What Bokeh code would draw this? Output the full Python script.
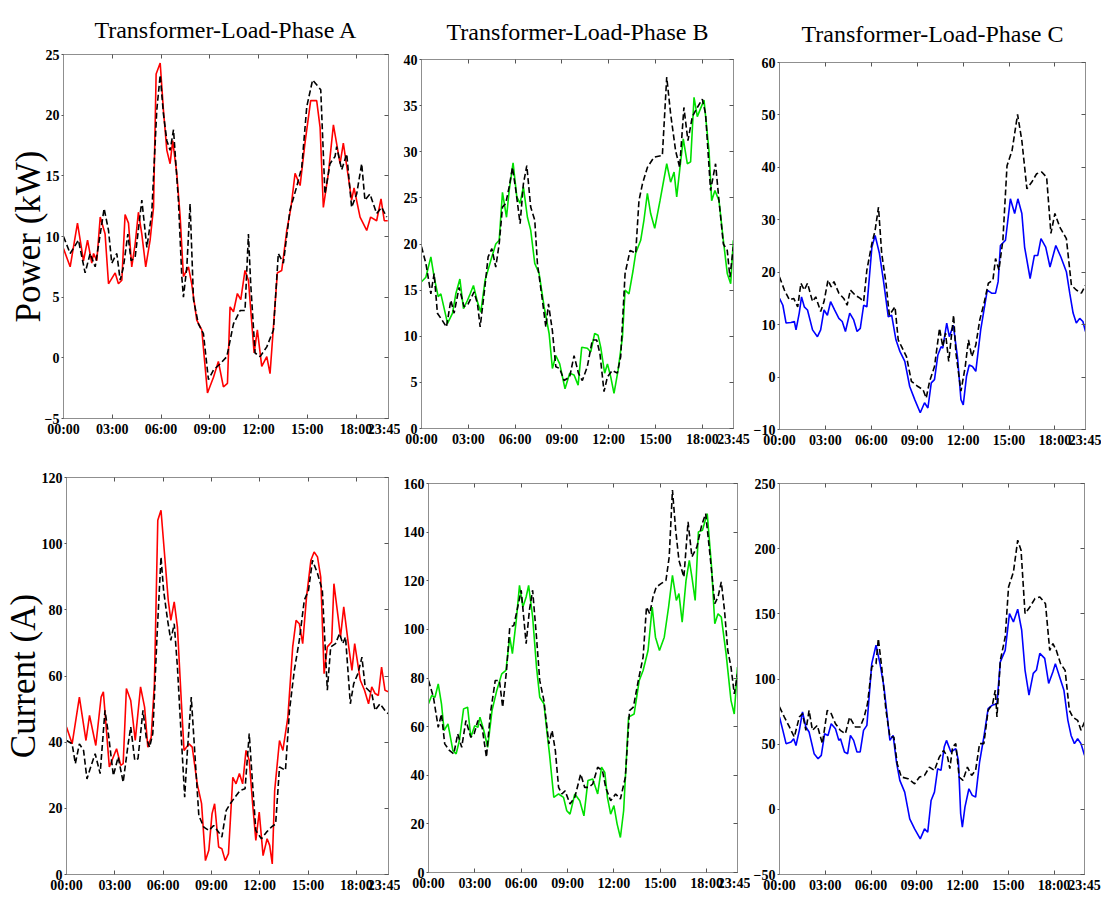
from bokeh.plotting import figure
from bokeh.models import Range1d, FixedTicker, LinearAxis
from bokeh.layouts import row, column
from bokeh.embed import file_html
from bokeh.resources import INLINE

# ---------------- axis tick data ----------------
time_ticks = [0, 3, 6, 9, 12, 15, 18, 20]
time_labels = ["00:00", "03:00", "06:00", "09:00", "12:00", "15:00", "18:00", "23:45"]

titles = ["Transformer-Load-Phase A", "Transformer-Load-Phase B", "Transformer-Load-Phase C"]
row_labels = ["Power (kW)", "Current (A)"]

power_ticks_A = [-5, 0, 5, 10, 15, 20, 25]
power_ticks_B = [0, 5, 10, 15, 20, 25, 30, 35, 40]
power_ticks_C = [-10, 0, 10, 20, 30, 40, 50, 60]
current_ticks_A = [0, 20, 40, 60, 80, 100, 120]
current_ticks_B = [0, 20, 40, 60, 80, 100, 120, 140, 160]
current_ticks_C = [-50, 0, 50, 100, 150, 200, 250]

# ---------------- Phase A power (kW) ----------------
powA_t = [0, 0.41, 0.86, 1.23, 1.48, 1.74, 1.85, 2.05, 2.26, 2.56, 2.77, 3.18, 3.38, 3.59, 3.79, 4.0, 4.2, 4.41, 4.61, 4.82,
          5.06, 5.33, 5.54, 5.7, 5.95, 6.15, 6.36, 6.56, 6.72, 6.97, 7.18, 7.38, 7.69, 7.89, 8.2, 8.51, 8.86, 9.23, 9.53, 9.84,
          10.09, 10.25, 10.46, 10.7, 10.91, 11.17, 11.38, 11.73, 11.93, 12.2, 12.51, 12.71, 13.16, 13.43, 13.74, 14.0, 14.25, 14.56, 14.86, 15.21,
          15.58, 15.79, 15.99, 16.3, 16.61, 17.02, 17.22, 17.53, 17.73, 17.88, 18.25, 18.66, 18.9, 19.27, 19.54, 19.74, 19.95]
powA = [9.0, 7.5, 11.1, 8.0, 9.7, 7.8, 8.6, 8.0, 11.6, 10.2, 6.1, 7.0, 6.1, 6.4, 11.8, 11.1, 7.5, 9.4, 12.0, 10.2,
        7.5, 9.7, 12.4, 23.4, 24.3, 20.4, 17.1, 16.0, 17.9, 15.2, 11.6, 6.7, 7.5, 6.1, 3.1, 2.3, -2.9, -1.6, -0.3, -2.4,
        -2.1, 4.2, 3.8, 5.3, 4.8, 7.2, 6.4, 0.4, 2.3, -0.7, 0.1, -1.3, 7.0, 7.2, 10.5, 12.4, 15.2, 14.2, 17.7, 21.2,
        21.2, 19.0, 12.4, 15.2, 19.2, 16.0, 17.7, 14.9, 13.0, 14.0, 11.6, 10.5, 11.6, 11.3, 13.1, 11.3, 11.3]
powA_ref_t = [0, 0.41, 0.92, 1.33, 1.64, 1.95, 2.26, 2.5, 2.77, 2.97, 3.28, 3.49, 3.69, 3.96, 4.16, 4.41, 4.82, 5.13, 5.43, 5.74,
              5.95, 6.15, 6.36, 6.56, 6.77, 7.07, 7.28, 7.38, 7.59, 7.79, 8.0, 8.3, 8.61, 8.92, 9.23, 9.64, 10.05, 10.46, 10.87, 11.17,
              11.38, 11.52, 11.79, 12.1, 12.51, 12.92, 13.22, 13.53, 13.94, 14.35, 14.66, 14.97, 15.33, 15.58, 15.83, 16.09, 16.4, 16.71, 16.81, 17.12,
              17.43, 17.73, 18.04, 18.35, 18.55, 18.86, 19.27, 19.58, 19.89]
powA_ref = [10.0, 8.6, 9.7, 7.0, 8.6, 7.5, 10.2, 12.3, 10.5, 7.8, 8.6, 6.4, 7.5, 10.2, 8.0, 8.3, 13.0, 9.1, 11.9, 20.4,
            23.3, 20.1, 17.9, 17.1, 18.8, 13.0, 6.7, 5.0, 7.5, 12.7, 4.8, 2.8, 2.0, -1.8, -1.0, -0.5, 0.1, 2.8, 3.9, 3.9,
            10.2, 6.1, 0.4, 0.1, 0.9, 2.3, 8.6, 7.8, 12.2, 14.1, 15.7, 20.7, 22.9, 22.5, 22.1, 13.5, 16.0, 16.6, 17.4, 15.5,
            16.8, 12.4, 13.5, 16.0, 13.0, 13.5, 11.9, 12.4, 11.6]

# ---------------- Phase B power (kW) ----------------
powB_t = [0, 0.28, 0.6, 0.81, 1.07, 1.24, 1.67, 1.99, 2.2, 2.46, 2.69, 2.95, 3.12, 3.33, 3.59, 3.8, 4.08, 4.44, 4.76, 4.98,
          5.19, 5.45, 5.62, 5.87, 6.11, 6.32, 6.53, 6.79, 7.0, 7.26, 7.54, 7.86, 8.18, 8.39, 8.61, 8.86, 9.2, 9.5, 9.78, 10.04,
          10.27, 10.63, 10.85, 11.1, 11.32, 11.49, 11.74, 11.92, 12.13, 12.34, 12.6, 12.88, 13.05, 13.3, 13.56, 13.73, 14.05, 14.26, 14.48, 14.69,
          14.95, 15.29, 15.72, 15.97, 16.19, 16.36, 16.57, 16.78, 17.04, 17.25, 17.47, 17.68, 17.89, 18.11, 18.43, 18.6, 18.81, 19.07, 19.35, 19.6,
          19.82, 19.99]
powB = [15.9, 16.4, 18.6, 16.4, 14.3, 14.6, 11.4, 12.5, 14.6, 16.2, 13.0, 13.9, 14.6, 15.5, 13.7, 12.6, 16.1, 18.2, 20.0, 20.4,
        25.6, 22.9, 25.8, 28.8, 25.1, 24.4, 26.2, 22.9, 21.5, 17.9, 16.8, 13.2, 10.3, 6.5, 7.9, 7.0, 4.3, 6.0, 5.8, 4.7,
        8.8, 8.7, 8.3, 10.3, 10.1, 8.8, 6.0, 7.0, 5.6, 3.8, 6.3, 9.9, 15.0, 14.6, 17.1, 19.0, 20.4, 22.6, 25.5, 23.3,
        21.7, 24.7, 28.7, 26.7, 27.8, 25.1, 28.3, 31.4, 28.7, 28.9, 35.9, 33.8, 34.7, 35.6, 30.1, 24.7, 25.8, 24.7, 20.4, 16.8,
        15.7, 20.4]
powB_ref_t = [0, 0.28, 0.6, 0.81, 1.02, 1.34, 1.6, 1.88, 2.09, 2.41, 2.73, 2.99, 3.37, 3.59, 3.76, 4.06, 4.27, 4.51, 4.76, 4.98,
              5.19, 5.4, 5.62, 5.83, 6.05, 6.32, 6.53, 6.75, 7.0, 7.26, 7.43, 7.75, 7.97, 8.14, 8.39, 8.61, 8.86, 9.14, 9.5, 9.78,
              10.06, 10.31, 10.63, 10.95, 11.23, 11.44, 11.7, 11.92, 12.23, 12.55, 12.77, 13.05, 13.37, 13.73, 13.94, 14.16, 14.48, 14.9, 15.44, 15.72,
              15.97, 16.29, 16.55, 16.82, 17.08, 17.36, 17.68, 18.0, 18.21, 18.53, 18.85, 19.07, 19.35, 19.6, 19.77, 19.99]
powB_ref = [19.7, 17.9, 14.6, 16.8, 12.5, 11.7, 11.0, 13.9, 12.5, 15.3, 13.2, 13.5, 14.8, 13.5, 11.0, 15.3, 18.6, 19.5, 17.5, 20.0,
            24.0, 24.4, 26.2, 28.3, 25.8, 22.2, 26.5, 28.5, 24.0, 22.6, 17.9, 13.9, 11.0, 13.5, 10.6, 6.7, 6.5, 5.2, 5.6, 7.9,
            6.0, 5.2, 6.7, 9.6, 9.6, 8.1, 4.0, 5.6, 6.3, 6.0, 7.8, 16.8, 19.3, 19.0, 24.7, 26.5, 28.3, 29.4, 29.6, 38.1,
            34.1, 30.1, 28.3, 34.8, 31.2, 33.8, 34.8, 35.7, 34.1, 25.8, 28.7, 24.7, 20.0, 19.3, 16.4, 19.7]

# ---------------- Phase C power (kW) ----------------
powC_t = [0, 0.22, 0.43, 0.75, 0.97, 1.08, 1.29, 1.44, 1.62, 1.83, 2.16, 2.48, 2.69, 2.91, 3.13, 3.34, 3.6, 3.88, 4.1, 4.31,
          4.59, 4.85, 5.07, 5.28, 5.5, 5.71, 6.04, 6.25, 6.53, 6.79, 7.11, 7.33, 7.61, 7.87, 8.19, 8.51, 8.84, 9.2, 9.48, 9.7,
          9.92, 10.13, 10.35, 10.56, 10.67, 10.93, 11.1, 11.36, 11.64, 11.86, 12.01, 12.22, 12.4, 12.61, 12.83, 13.15, 13.58, 13.86, 14.12, 14.29,
          14.44, 14.77, 15.09, 15.37, 15.58, 15.84, 16.02, 16.38, 16.66, 16.88, 17.09, 17.4, 17.68, 18.06, 18.39, 18.75, 18.97, 19.19, 19.4, 19.62,
          19.83, 20.0]
powC = [15.0, 13.7, 10.3, 10.4, 10.6, 9.0, 12.2, 15.3, 13.4, 12.8, 9.0, 7.7, 9.0, 12.8, 11.8, 14.4, 12.8, 11.2, 10.6, 8.7,
        12.2, 10.9, 8.7, 9.3, 13.7, 13.4, 24.8, 27.0, 23.6, 18.5, 11.5, 11.8, 7.1, 4.9, 3.0, -1.8, -4.3, -6.8, -4.9, -5.9,
        -1.1, -0.5, 4.2, 5.8, 5.5, 10.3, 7.7, 9.9, 3.6, -4.3, -5.3, 0.1, 2.3, 2.0, 1.1, 9.0, 16.6, 16.0, 16.0, 18.2,
        25.1, 26.1, 34.0, 31.2, 34.0, 31.2, 24.8, 18.8, 23.2, 23.2, 26.4, 24.8, 21.0, 25.1, 22.9, 20.1, 16.0, 12.2, 10.3, 11.2,
        10.6, 8.7]
powC_ref_t = [0, 0.32, 0.65, 0.93, 1.19, 1.4, 1.62, 1.83, 2.16, 2.37, 2.69, 2.91, 3.17, 3.38, 3.56, 3.88, 4.2, 4.42, 4.63, 4.96,
              5.28, 5.5, 5.71, 6.04, 6.25, 6.47, 6.68, 6.96, 7.18, 7.55, 7.76, 7.98, 8.3, 8.62, 9.05, 9.38, 9.59, 9.81, 10.13, 10.46,
              10.67, 10.85, 11.06, 11.28, 11.38, 11.53, 11.86, 12.14, 12.35, 12.57, 12.83, 13.09, 13.37, 13.65, 13.95, 14.12, 14.34, 14.6, 14.87, 15.2,
              15.56, 15.84, 16.17, 16.49, 16.81, 17.14, 17.46, 17.74, 18.0, 18.32, 18.75, 19.08, 19.4, 19.73, 20.0]
powC_ref = [19.1, 16.6, 14.7, 15.0, 13.4, 17.9, 16.6, 17.9, 14.4, 15.3, 12.5, 14.4, 18.5, 17.2, 18.2, 16.0, 15.0, 13.7, 16.6, 15.6,
            15.0, 14.4, 20.4, 25.5, 28.0, 32.4, 23.6, 17.9, 11.8, 13.4, 7.1, 5.8, 3.9, -0.8, -1.8, -2.4, -4.0, -0.8, 2.0, 9.3,
            5.8, 8.4, 3.0, 9.0, 11.8, 4.6, -2.7, 2.0, 7.1, 3.9, 6.1, 10.9, 14.1, 17.9, 18.5, 22.6, 20.4, 26.1, 40.3, 43.2,
            50.1, 45.1, 35.9, 37.2, 38.8, 39.1, 38.1, 27.4, 31.2, 28.6, 26.4, 17.5, 16.6, 16.0, 17.5]

# ---------------- Phase A current (A) ----------------
curA_t = [0, 0.35, 0.8, 1.21, 1.43, 1.82, 2.15, 2.29, 2.66, 3.11, 3.37, 3.52, 3.72, 3.99, 4.27, 4.6, 4.85, 5.05, 5.26, 5.46,
          5.67, 5.87, 6.07, 6.32, 6.48, 6.69, 6.89, 7.14, 7.3, 7.61, 7.81, 8.12, 8.39, 8.63, 8.84, 9.04, 9.2, 9.45, 9.65, 9.86,
          10.06, 10.33, 10.53, 10.74, 10.94, 11.15, 11.35, 11.56, 11.76, 11.97, 12.21, 12.46, 12.62, 12.78, 12.93, 13.23, 13.44, 13.75, 14.05, 14.26,
          14.46, 14.67, 14.91, 15.18, 15.38, 15.59, 15.79, 16.0, 16.2, 16.47, 16.61, 16.87, 17.02, 17.22, 17.53, 17.73, 17.9, 18.25, 18.51, 18.76,
          18.96, 19.17, 19.37, 19.57, 19.78, 20.0]
curA = [44.6, 39.5, 53.6, 40.5, 48.1, 39.0, 53.6, 55.2, 32.5, 38.0, 33.0, 33.5, 56.2, 52.6, 40.5, 56.7, 50.6, 38.5, 41.5, 57.7,
        107.1, 110.1, 98.0, 82.9, 76.8, 82.4, 74.8, 51.6, 37.5, 39.5, 38.5, 27.4, 21.4, 4.2, 7.3, 18.4, 21.4, 8.3, 7.8, 4.2,
        6.3, 29.4, 27.4, 30.5, 27.4, 37.5, 34.5, 21.4, 10.3, 18.9, 5.7, 10.8, 8.8, 3.2, 25.4, 40.5, 37.5, 47.6, 68.8, 76.8,
        75.8, 69.8, 83.9, 95.0, 97.5, 96.0, 89.9, 60.7, 68.8, 70.3, 87.9, 77.8, 71.8, 80.9, 68.8, 61.7, 69.8, 58.7, 55.7, 51.6,
        56.7, 54.7, 54.1, 62.7, 55.7, 55.2]
curA_ref_t = [0, 0.35, 0.55, 0.8, 1.06, 1.27, 1.57, 1.78, 2.09, 2.39, 2.6, 2.91, 3.21, 3.52, 3.83, 3.99, 4.24, 4.44, 4.75, 4.95,
              5.16, 5.36, 5.62, 5.87, 6.03, 6.28, 6.48, 6.69, 6.89, 7.06, 7.34, 7.51, 7.75, 7.96, 8.22, 8.53, 8.84, 9.14, 9.45, 9.65,
              9.92, 10.17, 10.47, 10.78, 11.09, 11.35, 11.5, 11.76, 12.11, 12.42, 12.72, 12.99, 13.23, 13.6, 13.85, 14.15, 14.46, 14.77, 15.03, 15.28,
              15.59, 15.89, 16.2, 16.41, 16.71, 16.96, 17.16, 17.33, 17.63, 17.84, 18.1, 18.35, 18.55, 18.76, 18.96, 19.17, 19.47, 19.78, 19.98]
curA_ref = [40.5, 39.5, 33.5, 39.5, 37.5, 28.9, 33.5, 36.5, 30.5, 49.6, 42.6, 29.9, 35.5, 27.9, 39.5, 44.6, 34.5, 35.0, 49.6, 41.5,
            38.5, 42.6, 71.8, 96.0, 85.9, 76.8, 70.8, 75.8, 62.7, 47.6, 23.4, 37.5, 53.6, 37.5, 17.8, 14.3, 13.3, 14.8, 12.8, 11.3,
            19.4, 21.4, 23.4, 25.4, 25.9, 42.6, 31.5, 13.3, 10.8, 12.8, 14.3, 15.3, 32.5, 31.5, 49.6, 61.7, 70.8, 82.9, 85.9, 95.0,
            91.0, 85.9, 55.7, 68.8, 69.8, 72.8, 69.8, 71.8, 51.6, 57.7, 60.7, 65.7, 56.7, 55.7, 54.7, 49.6, 51.6, 49.6, 48.6]

# ---------------- Phase B current (A) ----------------
curB_t = [0, 0.21, 0.42, 0.63, 0.84, 1.01, 1.26, 1.58, 1.79, 2.0, 2.27, 2.53, 2.74, 2.99, 3.2, 3.33, 3.58, 3.83, 4.11, 4.42,
          4.74, 5.01, 5.26, 5.43, 5.68, 5.89, 6.11, 6.32, 6.48, 6.74, 6.99, 7.2, 7.47, 7.68, 7.83, 8.11, 8.42, 8.74, 8.95, 9.16,
          9.47, 9.79, 10.06, 10.32, 10.63, 10.95, 11.2, 11.41, 11.58, 11.79, 12.0, 12.21, 12.42, 12.63, 12.95, 13.31, 13.64, 13.89, 14.21, 14.48,
          14.69, 14.95, 15.26, 15.54, 15.79, 16.04, 16.21, 16.42, 16.67, 16.88, 17.05, 17.26, 17.47, 17.73, 18.04, 18.32, 18.53, 18.74, 18.95, 19.26,
          19.58, 19.79, 20.0]
curB = [69.4, 72.8, 72.1, 77.6, 69.4, 58.4, 61.1, 50.1, 48.8, 54.3, 67.3, 68.0, 55.6, 60.4, 59.7, 63.9, 58.4, 51.5, 66.6, 74.9,
        81.7, 83.1, 96.8, 90.0, 103.7, 118.1, 109.2, 113.3, 118.1, 105.1, 84.5, 72.1, 69.4, 57.0, 48.8, 30.9, 32.3, 30.9, 25.4, 24.0,
        32.3, 29.5, 23.3, 37.8, 38.5, 32.3, 43.3, 41.2, 30.9, 24.0, 27.5, 19.9, 14.4, 25.4, 63.9, 65.2, 79.0, 83.1, 91.3, 109.2,
        96.8, 91.3, 96.8, 109.2, 122.2, 111.9, 114.7, 103.0, 120.2, 128.4, 121.5, 111.9, 140.1, 140.8, 147.6, 125.7, 102.3, 106.4, 105.1, 90.0,
        70.7, 65.2, 84.5]
curB_ref_t = [0, 0.32, 0.63, 0.84, 1.05, 1.37, 1.64, 1.89, 2.15, 2.42, 2.74, 2.95, 3.2, 3.47, 3.75, 4.0, 4.32, 4.59, 4.8, 5.05,
              5.26, 5.52, 5.73, 6.0, 6.32, 6.53, 6.74, 6.99, 7.2, 7.47, 7.79, 8.0, 8.21, 8.42, 8.63, 8.84, 9.16, 9.47, 9.85, 10.11,
              10.36, 10.63, 10.95, 11.26, 11.47, 11.79, 12.11, 12.42, 12.74, 13.01, 13.26, 13.58, 13.89, 14.11, 14.32, 14.53, 14.74, 15.05, 15.37, 15.58,
              15.79, 16.0, 16.21, 16.53, 16.8, 17.05, 17.37, 17.68, 17.94, 18.21, 18.53, 18.74, 18.95, 19.16, 19.37, 19.58, 19.79, 20.0]
curB_ref = [79.0, 72.1, 59.7, 65.2, 52.9, 50.1, 48.8, 57.0, 51.5, 62.5, 55.6, 57.0, 62.5, 59.7, 47.4, 65.2, 79.0, 79.0, 68.0, 83.1,
            100.9, 101.6, 107.8, 116.1, 94.1, 107.8, 116.1, 96.8, 79.0, 70.7, 52.9, 58.4, 50.1, 35.0, 32.3, 33.6, 28.2, 30.9, 40.5, 35.0,
            35.0, 36.4, 43.3, 41.9, 35.0, 29.5, 32.3, 30.2, 39.1, 66.6, 68.0, 79.0, 88.6, 109.2, 106.4, 113.3, 117.4, 118.8, 120.2, 129.8,
            157.3, 140.8, 128.4, 121.5, 144.2, 129.8, 133.9, 142.8, 147.6, 131.2, 110.6, 113.3, 119.5, 107.8, 91.3, 84.5, 73.5, 81.7]

# ---------------- Phase C current (A) ----------------
curC_t = [0, 0.22, 0.43, 0.76, 0.93, 1.08, 1.3, 1.51, 1.73, 1.94, 2.27, 2.53, 2.74, 2.96, 3.18, 3.39, 3.67, 3.89, 4.0, 4.26,
          4.47, 4.65, 4.86, 5.08, 5.29, 5.51, 5.73, 6.05, 6.33, 6.59, 6.85, 7.02, 7.24, 7.45, 7.67, 7.89, 8.21, 8.54, 8.86, 9.23,
          9.51, 9.72, 9.94, 10.16, 10.37, 10.59, 10.8, 10.95, 11.24, 11.56, 11.73, 11.88, 11.99, 12.16, 12.42, 12.64, 12.86, 13.12, 13.4, 13.68,
          13.94, 14.26, 14.48, 14.8, 15.08, 15.34, 15.62, 15.88, 16.1, 16.36, 16.64, 16.85, 17.07, 17.39, 17.65, 17.93, 18.09, 18.37, 18.65, 18.91,
          19.12, 19.34, 19.55, 19.77, 20.0]
curC = [70.8, 60.6, 50.4, 51.6, 54.2, 49.0, 60.6, 74.7, 63.2, 59.3, 42.7, 38.8, 41.4, 58.0, 56.7, 65.7, 61.8, 52.9, 54.2, 44.0,
        42.7, 56.7, 52.9, 44.0, 44.0, 60.6, 64.4, 111.8, 125.9, 111.8, 93.9, 76.0, 52.9, 56.7, 36.2, 22.2, 13.2, -7.3, -15.0, -22.7,
        -15.0, -17.6, 6.8, 13.2, 31.1, 29.9, 47.8, 52.9, 44.0, 46.6, 37.6, -3.4, -13.7, 1.7, 15.8, 10.7, 9.4, 36.3, 55.5, 77.3,
        79.8, 81.1, 113.1, 122.0, 150.2, 143.8, 153.5, 137.6, 106.9, 87.7, 104.3, 106.9, 119.7, 115.8, 96.6, 105.6, 111.8, 101.6, 91.4, 68.3,
        56.7, 50.4, 54.2, 50.4, 41.4]
curC_ref_t = [0, 0.32, 0.65, 0.97, 1.3, 1.51, 1.73, 1.94, 2.16, 2.48, 2.81, 3.13, 3.39, 3.67, 3.99, 4.32, 4.6, 4.97, 5.29, 5.55,
              5.77, 6.05, 6.33, 6.48, 6.7, 6.98, 7.24, 7.5, 7.72, 7.99, 8.43, 8.86, 9.18, 9.51, 9.83, 10.16, 10.48, 10.76, 11.02, 11.17,
              11.35, 11.56, 11.78, 12.03, 12.32, 12.6, 12.86, 13.12, 13.4, 13.68, 13.98, 14.15, 14.26, 14.48, 14.8, 15.02, 15.34, 15.62, 15.84, 16.1,
              16.42, 16.75, 17.07, 17.44, 17.72, 17.93, 18.15, 18.43, 18.73, 19.01, 19.23, 19.55, 19.77, 20.0]
curC_ref = [78.6, 70.8, 63.2, 55.5, 70.8, 73.4, 60.6, 75.9, 60.6, 64.4, 50.4, 75.9, 73.4, 65.7, 60.6, 58.0, 70.8, 63.2, 63.2, 70.8,
            81.0, 109.3, 111.8, 131.0, 109.3, 76.0, 55.5, 55.5, 35.0, 24.8, 23.5, 19.6, 24.8, 26.0, 32.4, 29.9, 40.1, 45.2, 40.1, 31.2,
            47.8, 50.4, 24.8, 22.2, 32.4, 26.0, 29.9, 50.4, 50.4, 75.9, 81.1, 91.4, 70.8, 114.3, 132.2, 170.6, 182.1, 206.5, 198.8, 150.2,
            155.3, 161.7, 163.0, 157.8, 122.0, 127.1, 122.0, 111.8, 106.6, 75.9, 70.8, 68.3, 60.6, 67.0]

# ---------------- styling ----------------
SERIF = "Liberation Serif"
FRAME = "#8f8f8f"
TICK = "#555555"
phase_colors = ["#ff0000", "#00e000", "#0000ff"]


def style_axis(ax, show_labels=True, tick_in=4, tick_out=0):
    ax.axis_line_color = FRAME
    ax.axis_line_width = 1
    ax.major_tick_line_color = TICK
    ax.major_tick_in = tick_in
    ax.major_tick_out = tick_out
    ax.minor_tick_line_color = None
    ax.major_label_text_font = SERIF
    ax.major_label_text_font_style = "bold"
    if show_labels:
        ax.major_label_text_color = "black"
        ax.major_label_text_font_size = "14px"
        ax.major_label_standoff = 3
    else:
        ax.major_label_text_color = None
        ax.major_label_text_font_size = "1px"
        ax.major_label_standoff = 0


def panel(t, y, t_ref, y_ref, color, yticks, width, height, bl, br, bt, bb,
          title=None, title_gap=20, ylabel=None, ylabel_standoff=-4):
    p = figure(width=width, height=height, output_backend="svg", toolbar_location=None,
               x_range=Range1d(time_ticks[0], time_ticks[-1]),
               y_range=Range1d(yticks[0], yticks[-1]),
               min_border_left=bl, min_border_right=br, min_border_top=bt, min_border_bottom=bb,
               title=title)
    p.grid.visible = False
    p.outline_line_color = FRAME
    p.outline_line_width = 1
    p.background_fill_color = "white"
    p.border_fill_color = "white"

    xax = p.xaxis[0]
    yax = p.yaxis[0]
    xax.ticker = FixedTicker(ticks=time_ticks)
    xax.major_label_overrides = {k: v for k, v in zip(time_ticks, time_labels)}
    yax.ticker = FixedTicker(ticks=yticks)
    style_axis(xax, True, 4, 0)
    style_axis(yax, True, 0, 2)
    yax.major_label_standoff = 2

    if ylabel:
        yax.axis_label = ylabel
        yax.axis_label_text_font = SERIF
        yax.axis_label_text_font_style = "normal"
        yax.axis_label_text_font_size = "35px"
        yax.axis_label_text_color = "black"
        yax.axis_label_standoff = ylabel_standoff

    top = LinearAxis(ticker=FixedTicker(ticks=time_ticks))
    style_axis(top, False, 4, 0)
    p.add_layout(top, "above")
    right = LinearAxis(ticker=FixedTicker(ticks=yticks))
    style_axis(right, False, 4, 0)
    p.add_layout(right, "right")

    if title:
        p.title.text_font = SERIF
        p.title.text_font_style = "normal"
        p.title.text_font_size = "24px"
        p.title.text_color = "black"
        p.title.align = "center"
        p.title.standoff = title_gap

    p.line(t, y, line_color=color, line_width=1.6)
    p.line(t_ref, y_ref, line_color="black", line_width=1.6, line_dash="6 3")
    return p


pA = panel(powA_t, powA, powA_ref_t, powA_ref, phase_colors[0], power_ticks_A,
           400, 450, 63, 12, 54, 32, title=titles[0], title_gap=24,
           ylabel=row_labels[0], ylabel_standoff=-6)
pB = panel(powB_t, powB, powB_ref_t, powB_ref, phase_colors[1], power_ticks_B,
           350, 450, 21, 17, 59, 22, title=titles[1], title_gap=29)
pC = panel(powC_t, powC, powC_ref_t, powC_ref, phase_colors[2], power_ticks_C,
           351, 450, 25, 16, 62, 20, title=titles[2], title_gap=32)

qA = panel(curA_t, curA, curA_ref_t, curA_ref, phase_colors[0], current_ticks_A,
           400, 449, 61, 12, 27, 25, ylabel=row_labels[1], ylabel_standoff=-4)
qB = panel(curB_t, curB, curB_ref_t, curB_ref, phase_colors[1], current_ticks_B,
           350, 449, 20, 13, 33, 27)
qC = panel(curC_t, curC, curC_ref_t, curC_ref, phase_colors[2], current_ticks_C,
           351, 449, 25, 17, 33, 25)

# wrap each figure separately so that frames are not forced into alignment
top_row = row(column(pA), column(pB), column(pC), spacing=0)
bottom_row = row(column(qA), column(qB), column(qC), spacing=0)
layout = column(top_row, bottom_row, spacing=0)

open("out.html", "w").write(file_html(layout, INLINE))
